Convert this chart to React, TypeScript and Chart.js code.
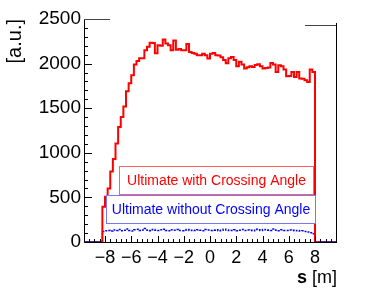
import React, { useEffect, useRef } from 'react';
import { Chart, registerables } from 'chart.js';
Chart.register(...registerables);

// ---- data ----
const binStart = -8.2;
const binWidth = 0.2;
const xMin = -9.6;
const xMax = 9.6;
const yMin = 0;
const yMax = 2500;
const xTickValues = [-8, -6, -4, -2, 0, 2, 4, 6, 8];
const yTickValues = [0, 500, 1000, 1500, 2000, 2500];

const redValues = [
  228, 395, 507, 600, 790, 930, 1105, 1290, 1400, 1520,
  1690, 1780, 1870, 1990, 2030, 2060, 2060, 2150, 2190, 2235,
  2230, 2115, 2205, 2200, 2270, 2225, 2205, 2150, 2260, 2155,
  2165, 2150, 2150, 2220, 2130, 2120, 2110, 2095, 2095, 2110,
  2095, 2057, 2110, 2120, 2095, 2090, 2070, 2040, 2005, 2060,
  2075, 2040, 1970, 2020, 1990, 1945, 1960, 1971, 1963, 1985,
  1994, 1971, 1945, 1950, 1956, 2008, 1990, 1907, 1982, 1970,
  1934, 1859, 1860, 1907, 1851, 1907, 1833, 1830, 1814, 1795,
  1934, 1907,
];

const blueValues = [
  95, 118, 125, 130, 122, 135, 128, 140, 126, 132,
  145, 130, 124, 138, 142, 128, 135, 150, 133, 127,
  140, 131, 129, 136, 144, 130, 125, 138, 133, 141,
  128, 126, 135, 139, 130, 132, 128, 137, 131, 126,
  140, 134, 129, 133, 138, 127, 131, 142, 135, 128,
  130, 136, 125, 133, 139, 129, 134, 131, 127, 143,
  136, 130, 141, 138, 132, 129, 145, 133, 127, 136,
  130, 128, 135, 131, 126, 129, 122, 125, 118, 112,
  104, 92,
];

const redLabel = 'Ultimate with Crossing Angle';
const blueLabel = 'Ultimate without Crossing Angle';
const yTitle = '[a.u.]';
const xTitleVar = 's';
const xTitleUnit = ' [m]';

// ---- styles ----
const FONT = '"Liberation Sans", Arial, Helvetica, sans-serif';
const RED = '#ff0000';
const BLUE = '#0000ff';
const PURPLE = '#5b1f8f';

function histPoints(vals: number[], padZeros: boolean) {
  const pts: { x: number; y: number }[] = [];
  if (padZeros) pts.push({ x: xMin, y: 0 });
  pts.push({ x: binStart, y: 0 });
  vals.forEach((v, i) => pts.push({ x: +(binStart + i * binWidth).toFixed(3), y: v }));
  pts.push({ x: +(binStart + vals.length * binWidth).toFixed(3), y: 0 });
  if (padZeros) pts.push({ x: xMax, y: 0 });
  return pts;
}

const fmt = (v: number) => (v < 0 ? '\u2212' + Math.abs(v) : String(v));

const decorPlugin = {
  id: 'decor',
  afterDatasetsDraw(chart: any) {
    const ctx = chart.ctx;
    const drawBox = (x0: number, y0: number, x1: number, y1: number, stroke: string, color: string, text: string) => {
      ctx.save();
      ctx.fillStyle = '#ffffff';
      ctx.fillRect(x0, y0, x1 - x0, y1 - y0);
      ctx.strokeStyle = stroke;
      ctx.lineWidth = 1;
      ctx.strokeRect(x0 + 0.5, y0 + 0.5, x1 - x0 - 1, y1 - y0 - 1);
      ctx.fillStyle = color;
      ctx.font = `14px ${FONT}`;
      ctx.textAlign = 'center';
      ctx.textBaseline = 'middle';
      ctx.fillText(text, (x0 + x1) / 2, (y0 + y1) / 2 + 1);
      ctx.restore();
    };
    drawBox(119, 166, 314, 195, 'rgba(255,60,60,0.8)', RED, redLabel);
    drawBox(106, 195, 316, 224, 'rgba(60,60,255,0.7)', BLUE, blueLabel);
  },
  afterDraw(chart: any) {
    const ctx = chart.ctx;
    const xs = chart.scales.x;
    const ys = chart.scales.y;
    const { left, right, top, bottom } = chart.chartArea;
    ctx.save();
    ctx.strokeStyle = '#000';
    ctx.lineWidth = 1;
    ctx.beginPath();
    for (let v = yMin; v <= yMax; v += 100) {
      const y = Math.round(ys.getPixelForValue(v)) + 0.5;
      const len = v % 500 === 0 ? 8 : 4;
      ctx.moveTo(left, y);
      ctx.lineTo(left + len, y);
    }
    for (let k = -24; k <= 24; k++) {
      const v = k * 0.4;
      const x = Math.round(xs.getPixelForValue(v)) + 0.5;
      const len = k % 5 === 0 ? 6 : 3;
      ctx.moveTo(x, bottom);
      ctx.lineTo(x, bottom - len);
    }
    ctx.stroke();
    // frame fragments
    ctx.strokeStyle = '#444';
    ctx.beginPath();
    ctx.moveTo(left, Math.round(top) + 0.5);
    ctx.lineTo(left + 26, Math.round(top) + 0.5);
    ctx.moveTo(right - 31, top + 6.5);
    ctx.lineTo(right, top + 6.5);
    ctx.stroke();
    ctx.strokeStyle = '#000';
    ctx.beginPath();
    ctx.moveTo(Math.round(right) + 0.5, top + 4);
    ctx.lineTo(Math.round(right) + 0.5, bottom + 0.5);
    ctx.stroke();
    // x title
    ctx.fillStyle = '#000';
    ctx.textBaseline = 'alphabetic';
    ctx.textAlign = 'left';
    ctx.font = `18px ${FONT}`;
    const wUnit = ctx.measureText(xTitleUnit).width;
    ctx.font = `bold 18px ${FONT}`;
    const wVar = ctx.measureText(xTitleVar).width;
    const xEnd = right + 1;
    ctx.fillText(xTitleVar, xEnd - wUnit - wVar, 283);
    ctx.font = `18px ${FONT}`;
    ctx.fillText(xTitleUnit, xEnd - wUnit, 283);
    ctx.restore();
  },
};

export default function App() {
  const ref = useRef<HTMLCanvasElement | null>(null);
  useEffect(() => {
    document.body.style.margin = '0';
    const canvas = ref.current!;
    const chart = new Chart(canvas, {
      type: 'line',
      data: {
        datasets: [
          {
            label: redLabel,
            data: histPoints(redValues, true),
            borderColor: RED,
            borderWidth: 2,
            stepped: 'after',
            pointRadius: 0,
            fill: false,
            segment: {
              borderColor: (c: any) => (c.p0.parsed.y === 0 && c.p1.parsed.y === 0 ? PURPLE : undefined),
            },
          } as any,
          {
            label: blueLabel,
            data: histPoints(blueValues, false),
            borderColor: BLUE,
            borderWidth: 1.5,
            borderDash: [2, 1.5],
            stepped: 'after',
            pointRadius: 0,
            fill: false,
          } as any,
        ],
      },
      options: {
        animation: false,
        responsive: false,
        layout: { padding: { top: 19, right: 38, left: 0, bottom: 0 } },
        plugins: { legend: { display: false }, tooltip: { enabled: false }, title: { display: false } },
        scales: {
          x: {
            type: 'linear',
            min: xMin,
            max: xMax,
            afterBuildTicks: (s: any) => {
              s.ticks = xTickValues.map((v) => ({ value: v }));
            },
            afterFit: (s: any) => {
              s.height = 52;
            },
            grid: { display: false, drawTicks: false },
            border: { display: true, color: '#000', width: 1 },
            ticks: {
              padding: 5,
              color: '#000',
              font: { family: FONT, size: 18 },
              maxRotation: 0,
              autoSkip: false,
              callback: (v: any) => fmt(Number(v)),
            },
          },
          y: {
            type: 'linear',
            min: yMin,
            max: yMax,
            afterBuildTicks: (s: any) => {
              s.ticks = yTickValues.map((v) => ({ value: v }));
            },
            afterFit: (s: any) => {
              s.width = 84;
            },
            grid: { display: false, drawTicks: false },
            border: { display: true, color: '#000', width: 1 },
            ticks: {
              padding: 3,
              color: '#000',
              font: { family: FONT, size: 19 },
              callback: (v: any) => fmt(Number(v)),
            },
            title: {
              display: true,
              text: yTitle,
              align: 'end',
              color: '#000',
              font: { family: FONT, size: 20 },
              padding: { top: 3, bottom: 0 },
            },
          },
        },
      } as any,
      plugins: [decorPlugin],
    });
    return () => chart.destroy();
  }, []);
  return (
    <div style={{ width: 374, height: 294 }}>
      <canvas ref={ref} width={374} height={294} style={{ display: 'block' }} />
    </div>
  );
}
